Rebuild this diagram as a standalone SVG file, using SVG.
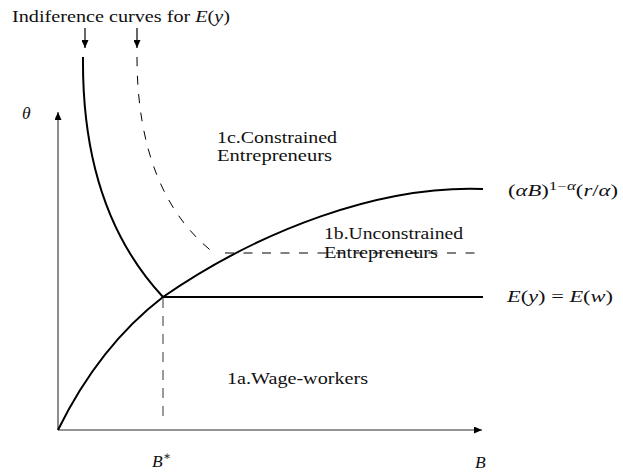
<svg xmlns="http://www.w3.org/2000/svg" width="623" height="472" viewBox="0 0 623 472">
<style>
.t{font-family:"Liberation Serif","DejaVu Serif",serif;font-size:16px;fill:#111}
.m{font-style:italic}
.big{font-size:17.5px}
.axis{stroke:#707070;stroke-width:1.6;fill:none}
.curve{stroke:#000;stroke-width:2;fill:none}
.dash{stroke:#000;stroke-width:1;fill:none;stroke-dasharray:9 9.5}
.vdash{stroke:#707070;stroke-width:1.4;fill:none;stroke-dasharray:10 8}
.ptr{stroke:#000;stroke-width:1.2;fill:none}
</style>
<defs>
<marker id="ah" markerWidth="8" markerHeight="7" refX="8" refY="3.5" orient="auto" markerUnits="userSpaceOnUse">
<path d="M0,0 L8,3.5 L0,7 Z" fill="#000"/>
</marker>
</defs>
<rect width="623" height="472" fill="#fff"/>
<g id="connectors">
<line class="axis" x1="58" y1="430" x2="58" y2="112" marker-end="url(#ah)"/>
<line class="axis" x1="58" y1="430" x2="482" y2="430" marker-end="url(#ah)"/>
<path class="curve" d="M58,430 C85,375 120,330 163,297 C260,230 380,185 483,189"/>
<line class="curve" x1="163" y1="297" x2="483" y2="297"/>
<line class="vdash" x1="163" y1="298" x2="163" y2="420"/>
<path class="curve" d="M83,57 C82,160 110,240 163,297"/>
<path class="dash" d="M137,57 C137,150 165,215 214,253"/>
<line class="dash" x1="225" y1="253" x2="478" y2="253"/>
<line class="ptr" x1="85" y1="28" x2="85" y2="48" marker-end="url(#ah)"/>
<line class="ptr" x1="137" y1="28" x2="137" y2="48" marker-end="url(#ah)"/>
</g>
<g id="title"><text class="t" x="12" y="22" textLength="218" lengthAdjust="spacingAndGlyphs">Indiference curves for <tspan class="m">E</tspan>(<tspan class="m">y</tspan>)</text></g>
<g id="theta"><text class="t m big" x="22" y="119">θ</text></g>
<g id="bstar"><text class="t big" x="152" y="467"><tspan class="m">B</tspan><tspan font-size="12" dy="-7">∗</tspan></text></g>
<g id="blabel"><text class="t m big" x="475" y="468">B</text></g>
<g id="region1c"><text class="t" x="217" y="143" textLength="120" lengthAdjust="spacingAndGlyphs">1c.Constrained</text><text class="t" x="217" y="161" textLength="115" lengthAdjust="spacingAndGlyphs">Entrepreneurs</text></g>
<g id="region1b"><text class="t" x="324" y="239" textLength="139" lengthAdjust="spacingAndGlyphs">1b.Unconstrained</text><text class="t" x="324" y="258" textLength="114" lengthAdjust="spacingAndGlyphs">Entrepreneurs</text></g>
<g id="region1a"><text class="t" x="227" y="384" textLength="141" lengthAdjust="spacingAndGlyphs">1a.Wage-workers</text></g>
<g id="curvelabel"><text class="t" x="508" y="196" textLength="110" lengthAdjust="spacingAndGlyphs">(<tspan class="m">αB</tspan>)<tspan font-size="12" dy="-6">1−<tspan class="m">α</tspan></tspan><tspan dy="6">(</tspan><tspan class="m">r</tspan>/<tspan class="m">α</tspan>)</text></g>
<g id="eqlabel"><text class="t" x="507" y="302" textLength="106" lengthAdjust="spacingAndGlyphs"><tspan class="m">E</tspan>(<tspan class="m">y</tspan>) = <tspan class="m">E</tspan>(<tspan class="m">w</tspan>)</text></g>
</svg>
